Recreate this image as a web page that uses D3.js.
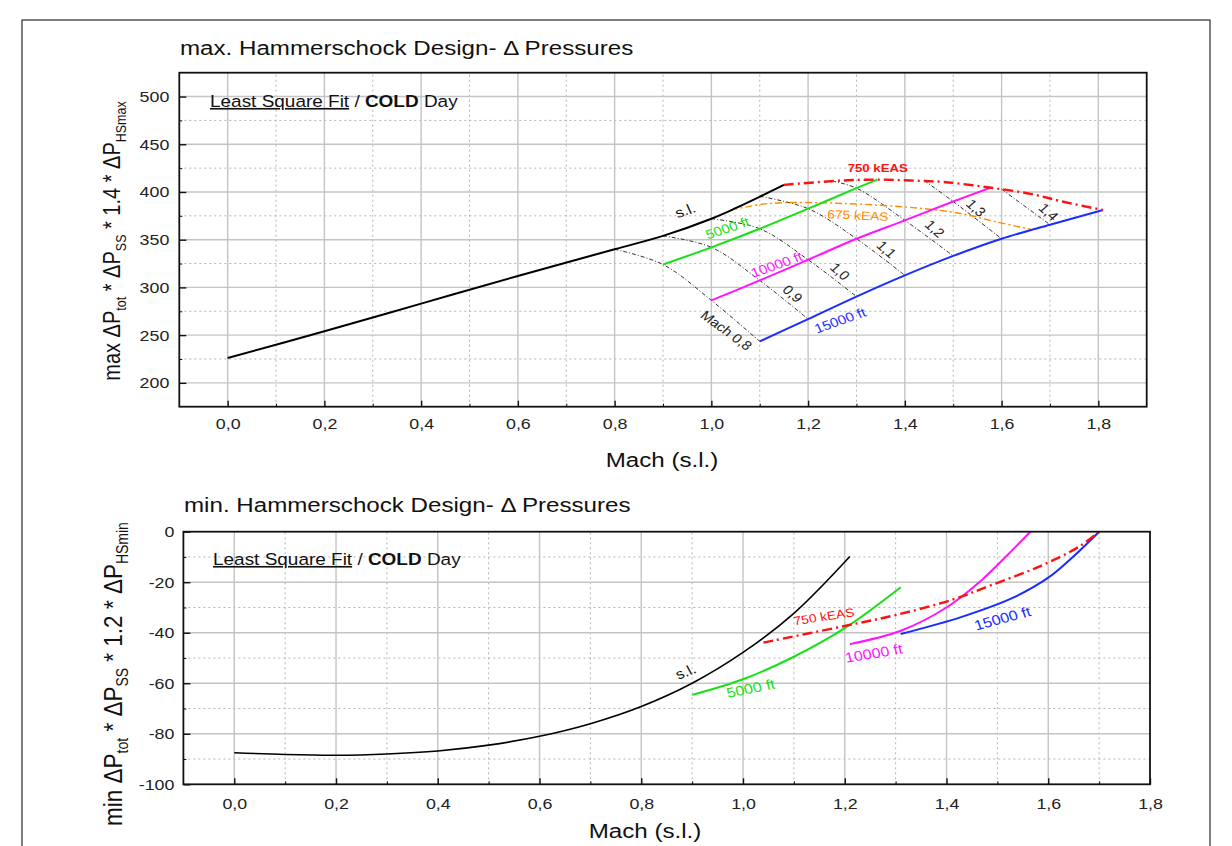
<!DOCTYPE html>
<html>
<head>
<meta charset="utf-8">
<script src="https://cdn.jsdelivr.net/npm/d3@7"></script>
<style>
body { margin: 0; background: #fff; }
text { font-family: "Liberation Sans", Arial, sans-serif; fill: #111; }
</style>
</head>
<body>
<svg id="chart" width="1232" height="846"></svg>
<script>
// ---- top chart data (max) ----
var slMaxM = [0, 0.2, 0.4, 0.6, 0.8, 0.9, 1.0, 1.05, 1.1, 1.15];
var slMaxP = [226, 254, 283, 312, 340, 354, 372, 383, 395, 407.5];
var ft5MaxM = [0.9, 1.0, 1.1, 1.2, 1.3, 1.343];
var ft5MaxP = [324, 342, 361.5, 382.5, 404, 413];
var ft10MaxM = [1.0, 1.1, 1.2, 1.3, 1.4, 1.5, 1.577];
var ft10MaxP = [286.4, 307.3, 329, 351, 370.3, 390, 404.5];
var ft15MaxM = [1.1, 1.2, 1.3, 1.4, 1.5, 1.6, 1.7, 1.808];
var ft15MaxP = [243.4, 266.8, 290.4, 312.6, 333, 351, 365.7, 380.8];
var keas750MaxM = [1.15, 1.27, 1.34, 1.41, 1.48, 1.57, 1.66, 1.73, 1.81];
var keas750MaxP = [407.5, 412, 413, 412, 410.5, 405, 398, 389.5, 381];
var keas675MaxM = [1.04, 1.12, 1.27, 1.44, 1.52, 1.59, 1.66];
var keas675MaxP = [381, 388, 388, 382.5, 377, 368.5, 361];

// constant Mach lines
var machNames = ["Mach 0,8", "0,9", "1,0", "1,1", "1,2", "1,3", "1,4"];
var machLineM = [
  [0.8, 0.9, 1.0, 1.1],
  [0.9, 1.0, 1.1, 1.2],
  [1.0, 1.1, 1.2, 1.3],
  [1.1, 1.2, 1.3, 1.4],
  [1.25, 1.3, 1.4, 1.5],
  [1.44, 1.5, 1.6],
  [1.6, 1.7]
];
var machLineP = [
  [340, 324, 286.4, 243.4],
  [354, 342, 307.3, 266.8],
  [372, 361.5, 329, 290.4],
  [395.5, 382.5, 351, 312.6],
  [411.5, 404, 370.3, 333],
  [412, 390, 351],
  [403, 365.7]
];
var machLabelM = [1.031, 1.168, 1.266, 1.362, 1.462, 1.547, 1.697];
var machLabelP = [254.9, 293.4, 316.8, 339.9, 361.5, 383.2, 379];

// ---- bottom chart data (min) ----
var slMinM = [0, 0.1, 0.2, 0.3, 0.4, 0.5, 0.6, 0.7, 0.8, 0.9, 1.0, 1.1, 1.21];
var slMinP = [-87.5, -88.2, -88.5, -88, -86.8, -84.5, -81, -76, -69.2, -60, -47.8, -32.3, -9.8];
var ft5MinM = [0.9, 1.0, 1.1, 1.2, 1.31];
var ft5MinP = [-64.6, -58.4, -49.5, -38.2, -22];
var ft10MinM = [1.21, 1.31, 1.40, 1.47, 1.52, 1.565];
var ft10MinP = [-44.5, -39.2, -30, -19, -9.2, 0];
var ft15MinM = [1.31, 1.43, 1.53, 1.6, 1.65, 1.70];
var ft15MinP = [-40.5, -33.7, -26.2, -18.2, -9.7, 0];
var keas750MinM = [1.04, 1.2, 1.3, 1.41, 1.49, 1.58, 1.66, 1.70];
var keas750MinP = [-43.9, -37.3, -33, -27, -21, -14, -6, 0];

// ticks
var topYTicks = [200, 250, 300, 350, 400, 450, 500];
var topYMinor = [225, 275, 325, 375, 425, 475];
var topXTicks = [0, 0.2, 0.4, 0.6, 0.8, 1.0, 1.2, 1.4, 1.6, 1.8];
var topXMinor = [0.1, 0.3, 0.5, 0.7, 0.9, 1.1, 1.3, 1.5, 1.7];
var botYTicks = [-100, -80, -60, -40, -20, 0];
var botYMinor = [-90, -70, -50, -30, -10];
var botXTicks = [0, 0.2, 0.4, 0.6, 0.8, 1.0, 1.2, 1.4, 1.6, 1.8];
var botXMinor = [0.1, 0.3, 0.5, 0.7, 0.9, 1.1, 1.3, 1.5, 1.7];

var SX = 1.15; // the source picture is stretched horizontally

var svg = d3.select("#chart");

// outer border
svg.append("rect").attr("x", 22).attr("y", 20).attr("width", 1188).attr("height", 860)
  .attr("fill", "none").attr("stroke", "#000").attr("stroke-width", 1);

function label(x, y, str, o) {
  o = o || {};
  var g = svg.append("g")
    .attr("transform", "translate(" + x + "," + y + ") scale(" + SX + ",1) rotate(" + (o.rot || 0) + ")");
  var t = g.append("text")
    .attr("font-size", o.size || 12)
    .attr("text-anchor", o.anchor || "start")
    .style("fill", o.color || "#111");
  if (o.bold) t.attr("font-weight", "bold");
  if (o.mid) t.attr("dy", "0.35em");
  t.text(str);
  return t;
}

var fmtComma = function(d) { return d3.format(".1f")(d).replace(".", ","); };

function panel(cfg) {
  var x = d3.scaleLinear().domain(cfg.xDom).range(cfg.xRange);
  var y = d3.scaleLinear().domain(cfg.yDom).range(cfg.yRange);
  var g = svg.append("g");

  // grid
  g.selectAll(".gxmin").data(cfg.xMinor).enter().append("line")
    .attr("x1", d => x(d)).attr("x2", d => x(d))
    .attr("y1", cfg.yRange[0]).attr("y2", cfg.yRange[1])
    .attr("stroke", "#b4b4b4").attr("stroke-width", 1).attr("stroke-dasharray", "2,3");
  g.selectAll(".gymin").data(cfg.yMinor).enter().append("line")
    .attr("y1", d => y(d)).attr("y2", d => y(d))
    .attr("x1", cfg.xRange[0]).attr("x2", cfg.xRange[1])
    .attr("stroke", "#b4b4b4").attr("stroke-width", 1).attr("stroke-dasharray", "2,3");
  g.selectAll(".gx").data(cfg.xTicks.filter(d => d > cfg.xDom[0] && d < cfg.xDom[1])).enter().append("line")
    .attr("x1", d => x(d)).attr("x2", d => x(d))
    .attr("y1", cfg.yRange[0]).attr("y2", cfg.yRange[1])
    .attr("stroke", "#c4c4c4").attr("stroke-width", 1.4);
  g.selectAll(".gy").data(cfg.yTicks.filter(d => d > cfg.yDom[0] && d < cfg.yDom[1])).enter().append("line")
    .attr("y1", d => y(d)).attr("y2", d => y(d))
    .attr("x1", cfg.xRange[0]).attr("x2", cfg.xRange[1])
    .attr("stroke", "#c4c4c4").attr("stroke-width", 1.4);

  // curves
  cfg.series.forEach(function(s) {
    var pts = s.m.map((m, i) => [m, s.p[i]]);
    g.append("path").datum(pts)
      .attr("fill", "none")
      .attr("stroke", s.color)
      .attr("stroke-width", s.width || 2)
      .attr("stroke-dasharray", s.dash || null)
      .attr("d", d3.line().x(d => x(d[0])).y(d => y(d[1])).curve(d3.curveCatmullRom.alpha(0.5)));
  });

  // frame
  g.append("rect")
    .attr("x", cfg.xRange[0]).attr("y", cfg.yRange[1])
    .attr("width", cfg.xRange[1] - cfg.xRange[0]).attr("height", cfg.yRange[0] - cfg.yRange[1])
    .attr("fill", "none").attr("stroke", "#111").attr("stroke-width", 1.8);

  // axes (ticks inward)
  var xa = g.append("g").attr("transform", "translate(0," + cfg.yRange[0] + ")")
    .call(d3.axisBottom(x).tickValues(cfg.xTicks).tickSize(-6).tickPadding(cfg.xPad).tickFormat(fmtComma));
  xa.select(".domain").remove();
  xa.selectAll("text").attr("font-size", 15.5).style("fill", "#222")
    .attr("transform", "scale(" + SX + ",1)");
  xa.selectAll("line").attr("stroke", "#111").attr("stroke-width", 1.4);
  var xm = g.append("g").attr("transform", "translate(0," + cfg.yRange[0] + ")")
    .call(d3.axisBottom(x).tickValues(cfg.xMinor).tickSize(-3).tickFormat(""));
  xm.select(".domain").remove();
  xm.selectAll("line").attr("stroke", "#111");

  var ya = g.append("g").attr("transform", "translate(" + cfg.xRange[0] + ",0)")
    .call(d3.axisLeft(y).tickValues(cfg.yTicks).tickSize(-7).tickPadding(cfg.yPad / SX)
      .tickFormat(d => String(d)));
  ya.select(".domain").remove();
  ya.selectAll("text").attr("font-size", 15.5).style("fill", "#222")
    .attr("transform", "scale(" + SX + ",1)");
  ya.selectAll("line").attr("stroke", "#111").attr("stroke-width", 1.4);
  var ym = g.append("g").attr("transform", "translate(" + cfg.xRange[0] + ",0)")
    .call(d3.axisLeft(y).tickValues(cfg.yMinor).tickSize(-3).tickFormat(""));
  ym.select(".domain").remove();
  ym.selectAll("line").attr("stroke", "#111");

  return { x: x, y: y };
}

// ---------- top panel ----------
var machDash = "4,2,1,2";
var topSeries = [];
machLineM.forEach(function(m, i) {
  topSeries.push({ m: m, p: machLineP[i], color: "#333", width: 1, dash: machDash });
});
topSeries.push({ m: keas675MaxM, p: keas675MaxP, color: "#ff8c00", width: 1.4, dash: "7,3,2,3" });
topSeries.push({ m: slMaxM, p: slMaxP, color: "#000", width: 2 });
topSeries.push({ m: ft5MaxM, p: ft5MaxP, color: "#16e016", width: 2 });
topSeries.push({ m: ft10MaxM, p: ft10MaxP, color: "#ff14ff", width: 2 });
topSeries.push({ m: ft15MaxM, p: ft15MaxP, color: "#1a2cff", width: 2 });
topSeries.push({ m: keas750MaxM, p: keas750MaxP, color: "#ff1010", width: 2.4, dash: "10,4,2,4" });

var pTop = panel({
  xDom: [-0.1, 1.9], xRange: [179.3, 1146.7],
  yDom: [175, 525], yRange: [406.7, 72.7],
  xTicks: topXTicks, xMinor: topXMinor, yTicks: topYTicks, yMinor: topYMinor,
  xPad: 11, yPad: 10, series: topSeries
});

// mach labels
machNames.forEach(function(n, i) {
  label(pTop.x(machLabelM[i]), pTop.y(machLabelP[i]), n,
    { size: 13, rot: i === 0 ? 40 : 45, anchor: "middle", mid: true, color: "#222" });
});
label(pTop.x(0.946), pTop.y(380.8), "s.l.", { size: 14, rot: -22, anchor: "middle", mid: true });
label(pTop.x(1.033), pTop.y(362.2), "5000 ft", { size: 13, rot: -21, anchor: "middle", mid: true, color: "#16e016" });
label(pTop.x(1.135), pTop.y(323.8), "10000 ft", { size: 13, rot: -22, anchor: "middle", mid: true, color: "#ff14ff" });
label(pTop.x(1.266), pTop.y(265.4), "15000 ft", { size: 13, rot: -22, anchor: "middle", mid: true, color: "#1a2cff" });
label(pTop.x(1.344), pTop.y(425.2), "750 kEAS", { size: 11.5, anchor: "middle", mid: true, color: "#ff1010", bold: true });
label(pTop.x(1.303), pTop.y(375.5), "675 kEAS", { size: 12, rot: 3, anchor: "middle", mid: true, color: "#ff8c00" });

// ---------- bottom panel ----------
var botSeries = [
  { m: slMinM, p: slMinP, color: "#000", width: 1.6 },
  { m: ft5MinM, p: ft5MinP, color: "#16e016", width: 2 },
  { m: ft10MinM, p: ft10MinP, color: "#ff14ff", width: 2 },
  { m: ft15MinM, p: ft15MinP, color: "#1a2cff", width: 2 },
  { m: keas750MinM, p: keas750MinP, color: "#ff1010", width: 2.4, dash: "10,4,2,4" }
];
var pBot = panel({
  xDom: [-0.1, 1.8], xRange: [183.4, 1150],
  yDom: [-100, 0], yRange: [784.3, 531.7],
  xTicks: botXTicks, xMinor: botXMinor, yTicks: botYTicks, yMinor: botYMinor,
  xPad: 14, yPad: 9, series: botSeries
});

label(pBot.x(0.887), pBot.y(-55.4), "s.l.", { size: 14, rot: -25, anchor: "middle", mid: true });
label(pBot.x(1.015), pBot.y(-62), "5000 ft", { size: 14, rot: -13, anchor: "middle", mid: true, color: "#16e016" });
label(pBot.x(1.159), pBot.y(-33.6), "750 kEAS", { size: 12, rot: -10, anchor: "middle", mid: true, color: "#ff1010" });
label(pBot.x(1.257), pBot.y(-48.1), "10000 ft", { size: 14, rot: -11, anchor: "middle", mid: true, color: "#ff14ff" });
label(pBot.x(1.51), pBot.y(-34.3), "15000 ft", { size: 14, rot: -17, anchor: "middle", mid: true, color: "#1a2cff" });

// ---------- titles and axis titles ----------
label(180, 55, "max. Hammerschock Design- \u0394 Pressures", { size: 21 });
label(184, 512, "min. Hammerschock Design- \u0394 Pressures", { size: 21 });
label(662, 467, "Mach (s.l.)", { size: 21, anchor: "middle" });
label(645, 838, "Mach (s.l.)", { size: 21, anchor: "middle" });

function noteText(x, y) {
  var t = label(x, y, "", { size: 16.5 });
  t.append("tspan").text("Least Square Fit").style("text-decoration", "underline");
  t.append("tspan").text(" / ");
  t.append("tspan").text("COLD").attr("font-weight", "bold");
  t.append("tspan").text(" Day");
}
noteText(210, 107);
noteText(213, 565);

function yTitle(x, y, word, factor, sub3, fs, ss) {
  var t = label(x, y, "", { size: fs, rot: -90, anchor: "middle" });
  t.append("tspan").text(word + " \u0394P");
  t.append("tspan").text("tot").attr("font-size", ss).attr("dy", 5);
  t.append("tspan").text(" * \u0394P").attr("dy", -5);
  t.append("tspan").text("SS").attr("font-size", ss).attr("dy", 5);
  t.append("tspan").text(" * " + factor + " * \u0394P").attr("dy", -5);
  t.append("tspan").text(sub3).attr("font-size", ss).attr("dy", 5);
}
yTitle(120, 241, "max", "1.4", "HSmax", 20, 12.5);
yTitle(122, 674, "min", "1.2", "HSmin", 22.5, 14);
</script>
</body>
</html>
